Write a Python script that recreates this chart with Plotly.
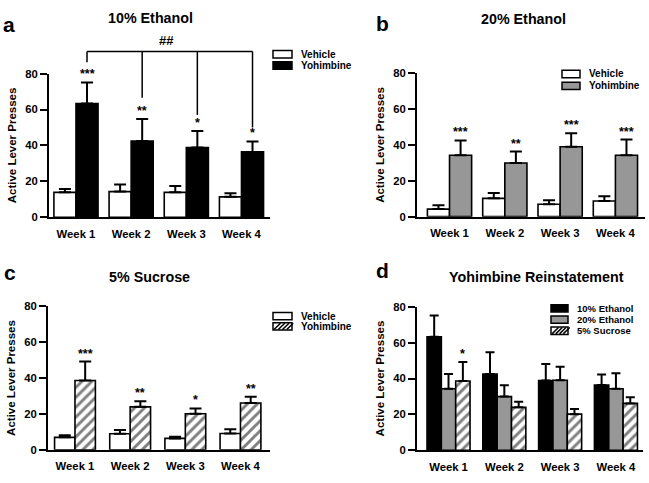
import plotly.graph_objects as go

# ---------------- data ----------------
weeks = ["Week 1", "Week 2", "Week 3", "Week 4"]
y_ticks = [0, 20, 40, 60, 80]
y_max = 80

eth10_vehicle = [13.9, 14.3, 13.9, 11.4]
eth10_vehicle_sem = [1.8, 4.0, 3.5, 2.0]
eth10_yohimbine = [63.3, 42.5, 38.9, 36.4]
eth10_yohimbine_sem = [11.8, 12.2, 9.2, 5.8]
eth10_stars = ["***", "**", "*", "*"]
eth10_bracket_top = 92.3
eth10_bracket_ends = [86.3, 66.5, 57.0, 50.0]
eth10_bracket_label = "##"

eth20_vehicle = [4.2, 10.2, 6.9, 8.7]
eth20_vehicle_sem = [2.2, 3.0, 2.2, 2.7]
eth20_yohimbine = [34.3, 29.9, 39.0, 34.3]
eth20_yohimbine_sem = [8.2, 6.4, 7.5, 8.7]
eth20_stars = ["***", "**", "***", "***"]

suc_vehicle = [6.9, 8.9, 6.3, 9.0]
suc_vehicle_sem = [1.2, 2.1, 0.9, 2.4]
suc_yohimbine = [38.6, 23.9, 20.1, 26.1]
suc_yohimbine_sem = [10.6, 3.1, 2.9, 3.4]
suc_stars = ["***", "**", "*", "**"]

reinst_sucrose_stars = ["*", "", "", ""]

panel_titles = ["10% Ethanol", "20% Ethanol", "5% Sucrose", "Yohimbine Reinstatement"]
panel_letters = ["a", "b", "c", "d"]
legend_ab = ["Vehicle", "Yohimbine"]
legend_d = ["10% Ethanol", "20% Ethanol", "5% Sucrose"]
y_title = "Active Lever Presses"

# ---------------- style ----------------
W, H = 649, 483
FONT = "Liberation Sans, Arial, sans-serif"
GRAY = "#979797"


def X(px):
    return px / W


def Y(py):
    return 1 - py / H


panels = {
    "a": dict(ax="", xpx=(49, 270), ypx=(216.7, 69.3), xr=[-0.489, 3.517]),
    "b": dict(ax="2", xpx=(417, 645), ypx=(216, 69), xr=[-0.588, 3.535]),
    "c": dict(ax="3", xpx=(48, 270), ypx=(455, 308), xr=[-0.489, 3.535]),
    "d": dict(ax="4", xpx=(417, 643), ypx=(455.5, 308.5), xr=[-0.565, 3.485]),
}

fig = go.Figure()
annotations = []
shapes = []

hatch = dict(shape="/", fgcolor="black", bgcolor="white", size=7, solidity=0.42, fillmode="overlay")


def add_bar(pid, y, sem, color, offset, width, cap, stars=None, pattern=None):
    ax = panels[pid]["ax"]
    marker = dict(color=color, line=dict(color="black", width=1.6))
    if pattern:
        marker["pattern"] = pattern
    fig.add_trace(go.Bar(
        x=weeks, y=y, width=width, offset=offset,
        marker=marker,
        error_y=dict(type="data", array=sem, arrayminus=[0] * len(sem), symmetric=False,
                     color="black", thickness=2, width=cap),
        xaxis="x" + ax, yaxis="y" + ax, showlegend=False,
    ))
    if stars:
        for i, s in enumerate(stars):
            if s:
                annotations.append(dict(
                    x=i + offset + width / 2, y=y[i] + sem[i], xref="x" + ax, yref="y" + ax,
                    text="<b>%s</b>" % s, showarrow=False, yanchor="bottom", xanchor="center",
                    font=dict(family=FONT, size=12.5, color="black"), yshift=-1,
                ))


# panel a
add_bar("a", eth10_vehicle, eth10_vehicle_sem, "white", -0.4, 0.4, 6)
add_bar("a", eth10_yohimbine, eth10_yohimbine_sem, "black", 0.0, 0.4, 6, eth10_stars)
# panel b
add_bar("b", eth20_vehicle, eth20_vehicle_sem, "white", -0.4, 0.4, 6)
add_bar("b", eth20_yohimbine, eth20_yohimbine_sem, GRAY, 0.0, 0.4, 6, eth20_stars)
# panel c
add_bar("c", suc_vehicle, suc_vehicle_sem, "white", -0.37, 0.37, 6)
add_bar("c", suc_yohimbine, suc_yohimbine_sem, "white", 0.0, 0.37, 6, suc_stars, hatch)
# panel d
wd = 0.257
add_bar("d", eth10_yohimbine, eth10_yohimbine_sem, "black", -1.5 * wd, wd, 4.5)
add_bar("d", eth20_yohimbine, eth20_yohimbine_sem, GRAY, -0.5 * wd, wd, 4.5)
add_bar("d", suc_yohimbine, suc_yohimbine_sem, "white", 0.5 * wd, wd, 4.5, reinst_sucrose_stars, hatch)

# axes
layout_axes = {}
for pid, p in panels.items():
    ax = p["ax"]
    layout_axes["xaxis" + ax] = dict(
        domain=[X(p["xpx"][0]), X(p["xpx"][1])], range=p["xr"], anchor="y" + ax,
        type="category", showline=True, linecolor="black", linewidth=2, ticks="",
        showgrid=False, zeroline=False, ticklabelstandoff=5,
        tickfont=dict(family=FONT, size=11.3, color="black", weight="bold"),
    )
    layout_axes["yaxis" + ax] = dict(
        domain=[Y(p["ypx"][0]), Y(p["ypx"][1])], range=[0, y_max], anchor="x" + ax,
        tickvals=y_ticks, showline=True, linecolor="black", linewidth=2,
        ticks="outside", ticklen=7, tickwidth=2, tickcolor="black",
        showgrid=False, zeroline=False,
        tickfont=dict(family=FONT, size=11.3, color="black", weight="bold"),
        title=dict(text=y_title, standoff=6,
                   font=dict(family=FONT, size=11.5, color="black", weight="bold")),
    )

# bracket in panel a (domain refs so it is drawn above the axis top)
pa = panels["a"]
span = pa["xr"][1] - pa["xr"][0]


def xdom(v):
    return (v - pa["xr"][0]) / span


yoh_centers = [i + 0.2 for i in range(len(weeks))]
shapes.append(dict(type="line", xref="x domain", yref="y domain",
                   x0=xdom(yoh_centers[0]), x1=xdom(yoh_centers[-1]),
                   y0=eth10_bracket_top / y_max, y1=eth10_bracket_top / y_max,
                   line=dict(color="black", width=1.5)))
for xc, ye in zip(yoh_centers, eth10_bracket_ends):
    shapes.append(dict(type="line", xref="x domain", yref="y domain",
                       x0=xdom(xc), x1=xdom(xc), y0=eth10_bracket_top / y_max, y1=ye / y_max,
                       line=dict(color="black", width=1.5)))
annotations.append(dict(x=xdom((yoh_centers[0] + yoh_centers[-1]) / 2) - 0.015,
                        y=eth10_bracket_top / y_max, xref="x domain", yref="y domain",
                        text="<b>%s</b>" % eth10_bracket_label, showarrow=False,
                        yanchor="bottom", font=dict(family=FONT, size=13, color="black"), yshift=1))

# titles and panel letters
title_pos = [(150, 12), (523.5, 13), (149, 277.5), (536, 277.5)]
letter_pos = [(9, 19), (382, 18), (10, 273), (382, 271)]
for t, (tx, ty) in zip(panel_titles, title_pos):
    annotations.append(dict(x=X(tx), y=Y(ty), xref="paper", yref="paper", text="<b>%s</b>" % t,
                            showarrow=False, xanchor="center", yanchor="middle",
                            font=dict(family=FONT, size=14.3, color="black")))
for t, (tx, ty) in zip(panel_letters, letter_pos):
    annotations.append(dict(x=X(tx), y=Y(ty), xref="paper", yref="paper", text="<b>%s</b>" % t,
                            showarrow=False, xanchor="center", yanchor="middle",
                            font=dict(family=FONT, size=21, color="black")))


# custom legends
def legend(x0, w, rows, tx, labels, kinds, fs):
    h = 7.5
    for yc, lab, kind in zip(rows, labels, kinds):
        fill = {"white": "white", "black": "black", "gray": GRAY, "hatch": "white"}[kind]
        shapes.append(dict(type="rect", xref="paper", yref="paper",
                           x0=X(x0), x1=X(x0 + w), y0=Y(yc + h / 2), y1=Y(yc - h / 2),
                           fillcolor=fill, line=dict(color="black", width=1.5)))
        if kind == "hatch":
            n = 4
            for k in range(n):
                xs = x0 + 1 + k * (w - 2) / n
                shapes.append(dict(type="line", xref="paper", yref="paper",
                                   x0=X(xs), x1=X(xs + h - 1), y0=Y(yc + h / 2 - 0.5), y1=Y(yc - h / 2 + 0.5),
                                   line=dict(color="black", width=1.5)))
        annotations.append(dict(x=X(tx), y=Y(yc), xref="paper", yref="paper", text="<b>%s</b>" % lab,
                                showarrow=False, xanchor="left", yanchor="middle",
                                font=dict(family=FONT, size=fs, color="black")))


legend(273, 19, [49.5, 61], 299, legend_ab, ["white", "black"], 10)
legend(562, 18, [69.7, 82], 587, legend_ab, ["white", "gray"], 10)
legend(273, 19, [318, 328.5], 299, legend_ab, ["white", "hatch"], 10)
legend(551, 17, [310, 321.7], 575, legend_d[:2], ["black", "gray"], 9.5)
legend(551, 17, [333], 575, legend_d[2:], ["hatch"], 9.5)

fig.update_layout(
    width=W, height=H, margin=dict(l=0, r=0, t=0, b=0),
    paper_bgcolor="white", plot_bgcolor="white",
    barmode="group", showlegend=False,
    annotations=annotations, shapes=shapes,
    font=dict(family=FONT, color="black"),
    **layout_axes,
)

fig.write_html(
    "out.html",
    config={"displayModeBar": False},
    post_script="document.body.style.margin='0';document.body.style.padding='0';"
                "document.documentElement.style.overflow='hidden';",
)
